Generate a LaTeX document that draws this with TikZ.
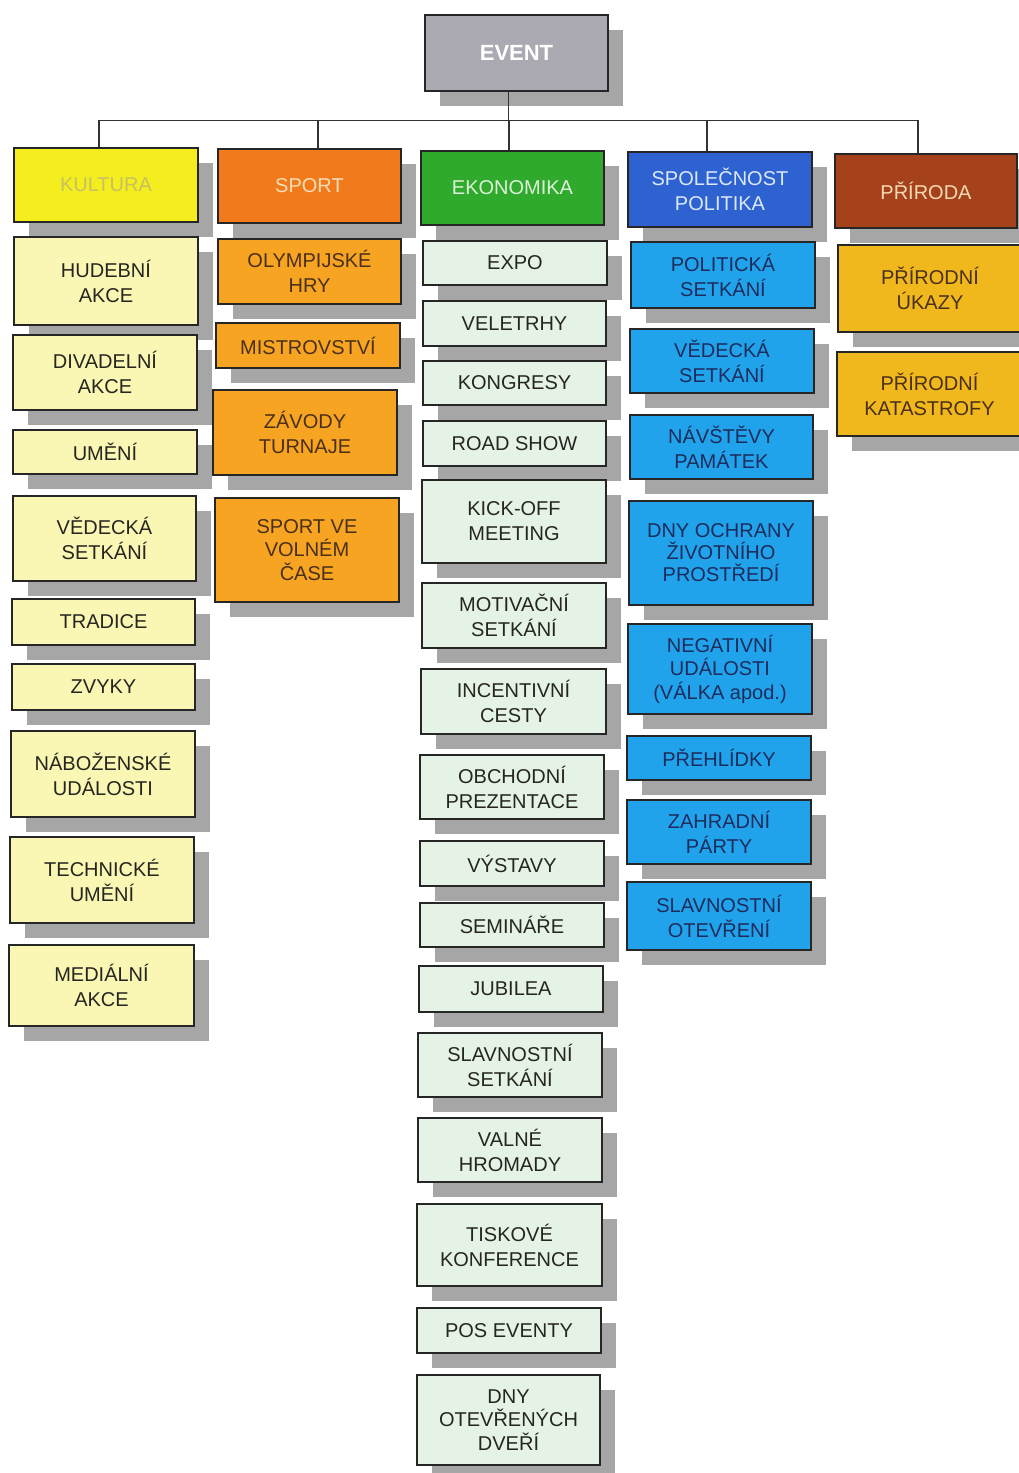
\documentclass[tikz,border=0pt]{standalone}
\usepackage{fontspec}
\setmainfont{Liberation Sans}
\usetikzlibrary{shadows}
\definecolor{shadowgray}{HTML}{A6A6A6}
\definecolor{eventgray}{HTML}{ABA9B2}
\definecolor{kulF}{HTML}{F4EE1E}
\definecolor{kulT}{HTML}{C8C062}
\definecolor{spoF}{HTML}{F07A1C}
\definecolor{spoT}{HTML}{F8DCB6}
\definecolor{ekoF}{HTML}{2FAA2D}
\definecolor{ekoT}{HTML}{DCF2D8}
\definecolor{polF}{HTML}{2D62D0}
\definecolor{polT}{HTML}{DCE8F8}
\definecolor{priF}{HTML}{A5421C}
\definecolor{priT}{HTML}{F6DAB4}
\definecolor{kulK}{HTML}{FAF6B4}
\definecolor{spoK}{HTML}{F7A422}
\definecolor{ekoK}{HTML}{E5F3E7}
\definecolor{polK}{HTML}{21A3EC}
\definecolor{priK}{HTML}{F1B81D}
\definecolor{darkT}{HTML}{262620}
\definecolor{brownT}{HTML}{4A3018}
\definecolor{navyT}{HTML}{1C2C5C}
\newcommand{\evbox}[7]{\node[#2, minimum width={(#5-#3)*1pt}, minimum height={(#6-#4)*1pt}] (#1) at ({(#3+#5)/2},{(#4+#6)/2}) {#7};}
\tikzset{
  base/.style={draw=black!85, line width=1.4pt, inner sep=0pt, align=center,
    font=\fontsize{20}{25}\selectfont,
    drop shadow={shadow xshift=15pt, shadow yshift=-15pt, fill=shadowgray, opacity=1}},
  evstyle/.style={base, fill=eventgray, text=white, font=\fontsize{22}{26}\selectfont\bfseries},
  kulhead/.style={base, fill=kulF, text=kulT},
  spohead/.style={base, fill=spoF, text=spoT},
  ekohead/.style={base, fill=ekoF, text=ekoT},
  polhead/.style={base, fill=polF, text=polT},
  prihead/.style={base, fill=priF, text=priT},
  kulkid/.style={base, fill=kulK, text=darkT},
  spokid/.style={base, fill=spoK, text=brownT},
  ekokid/.style={base, fill=ekoK, text=darkT},
  polkid/.style={base, fill=polK, text=navyT},
  prikid/.style={base, fill=priK, text=brownT},
  three/.style={font=\fontsize{20}{23.5}\selectfont},
  tight/.style={font=\fontsize{20}{22}\selectfont},
  conn/.style={draw=black!80, line width=1.5pt}
}
\begin{document}
\begin{tikzpicture}[x=1pt,y=-1pt]
\useasboundingbox[fill=white] (0,0) rectangle (1019,1473);

% root
\evbox{event}{evstyle}{425}{15}{608}{91}{EVENT}

% category heads
\evbox{kul}{kulhead}{14}{148}{198}{222}{KULTURA}
\evbox{spo}{spohead}{218}{149}{401}{223}{SPORT}
\evbox{eko}{ekohead}{421}{151}{604}{225}{EKONOMIKA}
\evbox{pol}{polhead}{628}{152}{812}{227}{SPOLEČNOST\\POLITIKA}
\evbox{pri}{prihead}{835}{154}{1017}{228}{PŘÍRODA}

% connectors
\draw[conn] ([xshift=-8pt]event.south) -- ++(0,29) -| ([xshift=-7pt]kul.north);
\draw[conn] ([xshift=-8pt]event.south) -- ++(0,29) -| ([xshift=8.5pt]spo.north);
\draw[conn] ([xshift=-8pt]event.south) -- ++(0,29) -| ([xshift=-3.5pt]eko.north);
\draw[conn] ([xshift=-8pt]event.south) -- ++(0,29) -| ([xshift=-13pt]pol.north);
\draw[conn] ([xshift=-8pt]event.south) -- ++(0,29) -| ([xshift=-8pt]pri.north);

% KULTURA
\evbox{k1}{kulkid}{14}{237}{198}{325}{HUDEBNÍ\\AKCE}
\evbox{k2}{kulkid}{13}{335}{197}{410}{DIVADELNÍ\\AKCE}
\evbox{k3}{kulkid}{13}{430}{197}{474}{UMĚNÍ}
\evbox{k4}{kulkid}{13}{496}{196}{581}{VĚDECKÁ\\SETKÁNÍ}
\evbox{k5}{kulkid}{12}{599}{195}{645}{TRADICE}
\evbox{k6}{kulkid}{12}{664}{195}{710}{ZVYKY}
\evbox{k7}{kulkid}{11}{731}{195}{817}{NÁBOŽENSKÉ\\UDÁLOSTI}
\evbox{k8}{kulkid}{10}{837}{194}{923}{TECHNICKÉ\\UMĚNÍ}
\evbox{k9}{kulkid}{9}{945}{194}{1026}{MEDIÁLNÍ\\AKCE}

% SPORT
\evbox{s1}{spokid}{218}{239}{401}{304}{OLYMPIJSKÉ\\HRY}
\evbox{s2}{spokid}{216}{323}{400}{368}{MISTROVSTVÍ}
\evbox{s3}{spokid}{213}{390}{397}{475}{ZÁVODY\\TURNAJE}
\evbox{s4}{spokid,three}{215}{498}{399}{602}{SPORT VE\\VOLNÉM\\ČASE}

% EKONOMIKA
\evbox{e1}{ekokid}{423}{241}{607}{285}{EXPO}
\evbox{e2}{ekokid}{423}{301}{606}{346}{VELETRHY}
\evbox{e3}{ekokid}{423}{361}{606}{405}{KONGRESY}
\evbox{e4}{ekokid}{423}{421}{606}{466}{ROAD SHOW}
\evbox{e5}{ekokid}{422}{480}{606}{563}{KICK-OFF\\MEETING}
\evbox{e6}{ekokid}{422}{583}{606}{648}{MOTIVAČNÍ\\SETKÁNÍ}
\evbox{e7}{ekokid}{421}{669}{606}{734}{INCENTIVNÍ\\CESTY}
\evbox{e8}{ekokid}{420}{755}{604}{819}{OBCHODNÍ\\PREZENTACE}
\evbox{e9}{ekokid}{420}{841}{604}{886}{VÝSTAVY}
\evbox{e10}{ekokid}{420}{903}{604}{947}{SEMINÁŘE}
\evbox{e11}{ekokid}{419}{966}{603}{1012}{JUBILEA}
\evbox{e12}{ekokid}{418}{1033}{602}{1097}{SLAVNOSTNÍ\\SETKÁNÍ}
\evbox{e13}{ekokid}{418}{1118}{602}{1182}{VALNÉ\\HROMADY}
\evbox{e14}{ekokid}{417}{1204}{602}{1286}{TISKOVÉ\\KONFERENCE}
\evbox{e15}{ekokid}{417}{1308}{601}{1353}{POS EVENTY}
\evbox{e16}{ekokid,three}{417}{1375}{600}{1465}{DNY\\OTEVŘENÝCH\\DVEŘÍ}

% SPOLECNOST POLITIKA
\evbox{p1}{polkid}{631}{242}{815}{308}{POLITICKÁ\\SETKÁNÍ}
\evbox{p2}{polkid}{630}{329}{814}{393}{VĚDECKÁ\\SETKÁNÍ}
\evbox{p3}{polkid}{630}{415}{813}{479}{NÁVŠTĚVY\\PAMÁTEK}
\evbox{p4}{polkid,tight}{629}{501}{813}{605}{DNY OCHRANY\\ŽIVOTNÍHO\\PROSTŘEDÍ}
\evbox{p5}{polkid,three}{628}{624}{812}{714}{NEGATIVNÍ\\UDÁLOSTI\\(VÁLKA apod.)}
\evbox{p6}{polkid}{627}{736}{811}{780}{PŘEHLÍDKY}
\evbox{p7}{polkid}{627}{800}{811}{864}{ZAHRADNÍ\\PÁRTY}
\evbox{p8}{polkid}{627}{882}{811}{950}{SLAVNOSTNÍ\\OTEVŘENÍ}

% PRIRODA
\evbox{r1}{prikid}{838}{245}{1022}{332}{PŘÍRODNÍ\\ÚKAZY}
\evbox{r2}{prikid}{837}{352}{1022}{436}{PŘÍRODNÍ\\KATASTROFY}
\end{tikzpicture}
\end{document}
